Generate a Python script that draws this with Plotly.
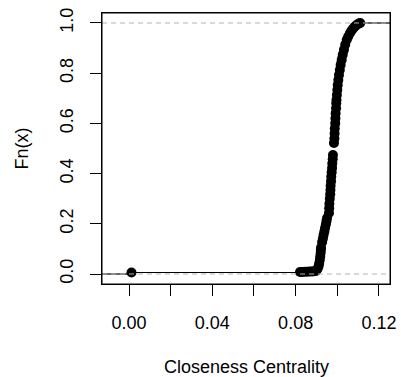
import plotly.graph_objects as go

# ECDF knots: closeness value and Fn(x) at that knot
closeness = [
    0.0012,
    0.0821, 0.0833, 0.0845, 0.0857, 0.0869, 0.0880, 0.0890,
    0.0898, 0.0905, 0.0910, 0.0913, 0.0916, 0.0918, 0.0920, 0.0921, 0.0922,
    0.0927, 0.0931, 0.0934, 0.0938, 0.0941, 0.0945, 0.0948, 0.0951,
    0.0960, 0.0961, 0.0962, 0.0964, 0.0966,
    0.0967, 0.0968, 0.0970, 0.0971, 0.0973, 0.0975, 0.0976, 0.0978, 0.0979,
    0.0984, 0.0986, 0.0987, 0.0988, 0.0990, 0.0991, 0.0992, 0.0994, 0.0995,
    0.0996, 0.0998, 0.1000, 0.1002, 0.1005, 0.1008, 0.1012, 0.1016, 0.1021,
    0.1026, 0.1032, 0.1038, 0.1045, 0.1052, 0.1060, 0.1067, 0.1074, 0.1082,
    0.1090, 0.1098, 0.1104, 0.1110,
]
fn_values = [
    0.006,
    0.008, 0.008, 0.009, 0.009, 0.010, 0.010, 0.011,
    0.012, 0.020, 0.030, 0.042, 0.056, 0.070, 0.084, 0.096, 0.104,
    0.127, 0.141, 0.155, 0.169, 0.183, 0.197, 0.211, 0.223,
    0.243, 0.262, 0.280, 0.300, 0.318,
    0.335, 0.352, 0.370, 0.388, 0.405, 0.422, 0.440, 0.457, 0.474,
    0.522, 0.540, 0.560, 0.580, 0.600, 0.620, 0.640, 0.660, 0.680,
    0.693, 0.713, 0.733, 0.753, 0.773, 0.793, 0.813, 0.833, 0.853,
    0.873, 0.893, 0.913, 0.932, 0.945, 0.958, 0.968, 0.976, 0.984,
    0.990, 0.995, 0.998, 1.000,
]

x_ticks = [0.00, 0.02, 0.04, 0.06, 0.08, 0.10, 0.12]
x_tick_text = ["0.00", "", "0.04", "", "0.08", "", "0.12"]
y_ticks = [0.0, 0.2, 0.4, 0.6, 0.8, 1.0]
y_tick_text = ["0.0", "0.2", "0.4", "0.6", "0.8", "1.0"]

x_range = [-0.01296, 0.1253]
y_range = [-0.0398, 1.0398]

FONT = "Liberation Sans, Arial, Helvetica, sans-serif"

# horizontal step segments (no verticals)
seg_x, seg_y = [], []
seg_x += [x_range[0], closeness[0], None]
seg_y += [0, 0, None]
for i in range(len(closeness)):
    x0 = closeness[i]
    x1 = closeness[i + 1] if i + 1 < len(closeness) else x_range[1]
    seg_x += [x0, x1, None]
    seg_y += [fn_values[i], fn_values[i], None]

fig = go.Figure()
fig.add_trace(go.Scatter(x=seg_x, y=seg_y, mode="lines",
                         line=dict(color="black", width=1.2),
                         hoverinfo="skip", showlegend=False))
fig.add_trace(go.Scatter(x=closeness, y=fn_values, mode="markers",
                         marker=dict(color="black", size=10, line=dict(width=0)),
                         showlegend=False))
for h in (0, 1):
    fig.add_trace(go.Scatter(x=x_range, y=[h, h], mode="lines",
                             line=dict(color="#b3b3b3", width=1.2, dash="5px,4px"),
                             hoverinfo="skip", showlegend=False))

axis_common = dict(showline=True, mirror=True, linecolor="black", linewidth=1,
                   showgrid=False, zeroline=False, ticks="outside", ticklen=11,
                   tickcolor="black", tickwidth=1, automargin=False,
                   ticklabeloverflow="allow",
                   tickfont=dict(family=FONT, size=18, color="black"))

fig.update_xaxes(range=x_range, tickvals=x_ticks, ticktext=x_tick_text,
                 ticklabelstandoff=11, **axis_common)
fig.update_yaxes(range=y_range, tickvals=y_ticks, ticktext=y_tick_text,
                 tickangle=-90, ticklabelstandoff=10, **axis_common)

fig.update_layout(
    width=401, height=377,
    margin=dict(l=102, r=11, t=13, b=93, autoexpand=False),
    plot_bgcolor="white", paper_bgcolor="white",
    font=dict(family=FONT, size=18, color="black"),
    shapes=[dict(type="rect", xref="paper", yref="paper", x0=0, x1=1, y0=0, y1=1,
                 line=dict(color="black", width=1), layer="above")],
    annotations=[
        dict(text="Closeness Centrality", xref="paper", yref="paper",
             x=0.502, y=-0.305, xanchor="center", yanchor="middle",
             showarrow=False, font=dict(family=FONT, size=18, color="black")),
        dict(text="Fn(x)", xref="paper", yref="paper",
             x=-0.281, y=0.5, xanchor="center", yanchor="middle", textangle=-90,
             showarrow=False, font=dict(family=FONT, size=18, color="black")),
    ],
)

# remove the browser's default 8px body margin so the figure sits at the page origin
fig.write_html("out.html",
               config={"displayModeBar": False},
               post_script="document.body.style.margin='0';document.body.style.overflow='hidden';")
